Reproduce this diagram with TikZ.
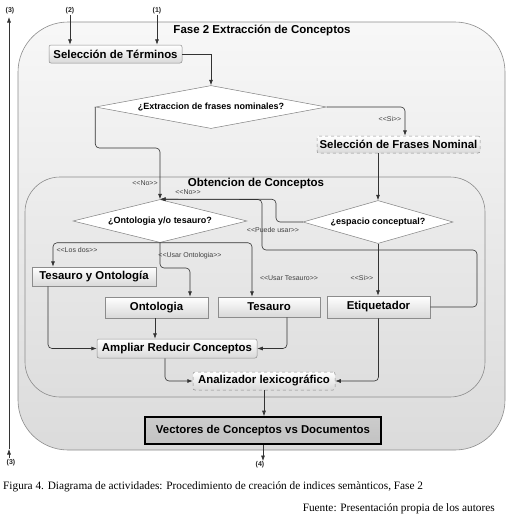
\documentclass[tikz,border=0pt]{standalone}
\usepackage{fontspec}
\setmainfont{Liberation Serif}
\setsansfont{Liberation Sans}
\newfontfamily\lblfont{Liberation Sans}[Ligatures=TeXOff]
\usetikzlibrary{arrows.meta,shapes.geometric,calc}
\begin{document}
\begin{tikzpicture}[x=1pt,y=-1pt,
  conn/.style={draw=black!80,line width=0.6pt,-{Latex[length=5.5pt,width=4pt]},rounded corners=4pt},
  act/.style={draw=black!45,line width=0.5pt,top color=white,bottom color=black!15,
    font=\sffamily\bfseries\fontsize{11.4}{13}\selectfont,inner sep=0pt,anchor=center},
  actr/.style={act,rounded corners=2pt},
  actd/.style={act,rounded corners=2pt,dashed},
  dec/.style={diamond,draw=black!50,line width=0.5pt,fill=white,inner sep=0pt,
    font=\sffamily\bfseries\fontsize{9}{10}\selectfont},
  lbl/.style={font=\lblfont\fontsize{7}{8.5}\selectfont,text=black!75,inner sep=0.5pt},
  num/.style={font=\sffamily\bfseries\fontsize{7}{8}\selectfont,text=black!85,inner sep=0.5pt},
  cont/.style={draw=black!45,line width=0.6pt},
  ttl/.style={font=\sffamily\bfseries\fontsize{11.5}{13}\selectfont,inner sep=0pt},
  captxt/.style={font=\rmfamily\fontsize{11.3}{13}\selectfont,inner sep=0pt}
]
\useasboundingbox (0,0) rectangle (514,523);
\fill[white] (0,0) rectangle (514,523);
% containers
\path[cont,top color=black!3,bottom color=black!14,rounded corners=50pt] (18,22) rectangle (505,450);
\path[cont,top color=black!7,bottom color=black!13,rounded corners=35pt] (25,177) rectangle (485,397);
\node[ttl] (t1) at (262,30) {Fase 2 Extracción de Conceptos};
\node[ttl] (t2) at (256,184) {Obtencion de Conceptos};
% outside markers
\node[num] (n3a) at (10,11) {(3)};
\node[num] (n2) at (70,11) {(2)};
\node[num] (n1) at (157,11) {(1)};
\node[num] (n3b) at (11,463) {(3)};
\node[num] (n4) at (260,465) {(4)};
\coordinate (l3top) at (9,17);
\coordinate (l3mid) at (9,449);
\coordinate (l3bot) at (9,458);
% activities
\node[actr,minimum width=133pt,minimum height=18pt] (selT) at (115.5,54) {Selección de Términos};
\node[dec,aspect=5.37,minimum width=231pt,minimum height=43pt] (dExt) at (211,107) {¿Extraccion de frases nominales?};
\node[actd,minimum width=163pt,minimum height=17pt] (selF) at (398.5,144.5) {Selección de Frases Nominal};
\node[dec,aspect=4.05,minimum width=174pt,minimum height=43pt] (dOnt) at (160,221) {¿Ontologia y/o tesauro?};
\node[dec,aspect=3.49,minimum width=150pt,minimum height=43pt] (dEsp) at (378,222) {¿espacio conceptual?};
\node[act,minimum width=124pt,minimum height=19pt] (tyo) at (94,276.5) {Tesauro y Ontología};
\node[act,minimum width=103pt,minimum height=21pt] (ont) at (156.5,307.5) {Ontologia};
\node[act,minimum width=102pt,minimum height=20pt] (tes) at (269,307) {Tesauro};
\node[act,minimum width=103pt,minimum height=22pt] (eti) at (378.5,307) {Etiquetador};
\node[actr,minimum width=160pt,minimum height=19pt] (amp) at (177,348.5) {Ampliar Reducir Conceptos};
\node[actd,minimum width=142pt,minimum height=18pt] (ana) at (264,381) {Analizador lexicográfico};
\node[act,draw=black,line width=1.6pt,top color=black!20,bottom color=black!24,minimum width=236pt,minimum height=27pt] (vec) at (263,430.5) {Vectores de Conceptos vs Documentos};
% helper coordinates
\coordinate (k1) at (160,148);
\coordinate (kNo) at (276,222);
\coordinate (kLoopA) at (477,250);
\coordinate (kLoopB) at (262,250);
\coordinate (kLoopC) at (262,199.5);
\coordinate (kOnt) at (160,268);
\coordinate (k155) at (155,0);
% connectors
\draw[conn] (n2.south) -- (n2.south |- selT.north);
\draw[conn] (n1.south) -- (n1.south |- selT.north);
\draw[conn,rounded corners=0pt] (selT.east) -| (dExt.north);
\draw[conn] (dExt.east) -| ([xshift=6.5pt]selF.north);
\draw[conn] (dExt.west) |- (k1) -- (dOnt.north);
\draw[conn] (selF.south -| dEsp.north) -- (dEsp.north);
\draw[conn] (dEsp.west) -- (kNo) |- (dOnt.north);
\draw[conn] (eti.east) -| (kLoopA) -- (kLoopB) -- (kLoopC) -- (dOnt.north);
\draw[conn] (dOnt.south) -| ([xshift=-41pt]tyo.north);
\draw[conn] (dOnt.south) -- (kOnt) -| ([xshift=33.5pt]ont.north);
\draw[conn] (dOnt.south) -| ([xshift=-17pt]tes.north);
\draw[conn] (dEsp.south) -- (dEsp.south |- eti.north);
\draw[conn] ([xshift=-46pt]tyo.south) |- (amp.west);
\draw[conn] (ont.south -| k155) -- (amp.north -| k155);
\draw[conn] ([xshift=18pt]tes.south) |- (amp.east);
\draw[conn] ([xshift=-12pt]amp.south) |- (ana.west);
\draw[conn] (eti.south) |- (ana.east);
\draw[conn] (ana.south) -- (ana.south |- vec.north);
\draw[conn] (vec.south) -- (vec.south |- n4.north);
\draw[conn] (l3bot) -- (l3mid);
\draw[conn] (l3mid) -- (l3top);
% connector labels
\node[lbl] (lSi1) at (390,119) {<<Si>>};
\node[lbl] (lNo1) at (145,183) {<<No>>};
\node[lbl] (lNo2) at (188,192) {<<No>>};
\node[lbl] (lPu) at (273,230) {<<Puede usar>>};
\node[lbl] (lLd) at (77,250) {<<Los dos>>};
\node[lbl] (lUo) at (190,256) {<<Usar Ontologia>>};
\node[lbl] (lUt) at (289,278) {<<Usar Tesauro>>};
\node[lbl] (lSi2) at (362,278) {<<Si>>};
% caption
\node[captxt,anchor=west] (cap1) at (3,487) {Figura 4. Diagrama de actividades: Procedimiento de creación de indices semànticos, Fase 2};
\node[captxt,anchor=east] (cap2) at (495,509) {Fuente: Presentación propia de los autores};
\end{tikzpicture}
\end{document}
